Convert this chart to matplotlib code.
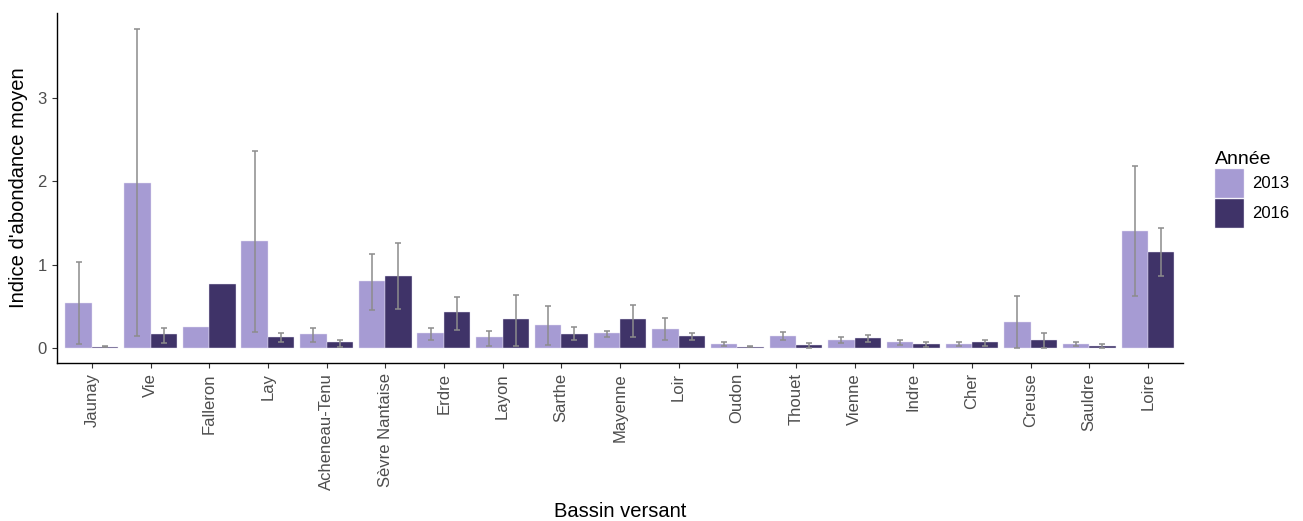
import matplotlib.pyplot as plt
import numpy as np

# ------------------------------------------------------------------ #
#                               DATA                                 #
# ------------------------------------------------------------------ #
bassins = ["Jaunay", "Vie", "Falleron", "Lay", "Acheneau-Tenu", "Sèvre Nantaise",
           "Erdre", "Layon", "Sarthe", "Mayenne", "Loir", "Oudon", "Thouet",
           "Vienne", "Indre", "Cher", "Creuse", "Sauldre", "Loire"]
annees = ["2013", "2016"]

moy_2013 = [0.54, 1.98, 0.25, 1.28, 0.17, 0.81, 0.18, 0.13, 0.28, 0.18,
            0.23, 0.05, 0.15, 0.10, 0.07, 0.05, 0.31, 0.05, 1.41]
bas_2013 = [0.05, 0.15, np.nan, 0.19, 0.08, 0.455, 0.10, 0.03, 0.04, 0.13,
            0.10, 0.03, 0.10, 0.06, 0.04, 0.03, 0.0, 0.03, 0.63]
haut_2013 = [1.03, 3.83, np.nan, 2.36, 0.24, 1.13, 0.24, 0.21, 0.51, 0.21,
             0.36, 0.08, 0.20, 0.13, 0.10, 0.08, 0.63, 0.07, 2.18]

moy_2016 = [0.02, 0.17, 0.77, 0.13, 0.07, 0.87, 0.43, 0.35, 0.17, 0.35,
            0.15, 0.02, 0.04, 0.12, 0.05, 0.07, 0.10, 0.03, 1.15]
bas_2016 = [0.01, 0.06, np.nan, 0.08, 0.01, 0.47, 0.22, 0.03, 0.10, 0.14,
            0.10, 0.01, 0.0, 0.08, 0.02, 0.03, 0.0, 0.0, 0.86]
haut_2016 = [0.03, 0.24, np.nan, 0.18, 0.10, 1.26, 0.62, 0.64, 0.25, 0.52,
             0.18, 0.03, 0.06, 0.16, 0.08, 0.10, 0.18, 0.05, 1.44]

couleurs = {"2013": "#A69BD3", "2016": "#3F3368"}

# ------------------------------------------------------------------ #
#                               PLOT                                 #
# ------------------------------------------------------------------ #
plt.rcParams['font.family'] = ['Liberation Sans', 'DejaVu Sans']

fig = plt.figure(figsize=(13.03, 5.21), dpi=100)
ax = fig.add_axes([0.0435, 0.3027, 0.9080 - 0.0435, 0.9756 - 0.3027])

x = np.arange(1, len(bassins) + 1)
w = 0.45
series = [(moy_2013, bas_2013, haut_2013, -w / 2, "2013"),
          (moy_2016, bas_2016, haut_2016, w / 2, "2016")]

for moy, bas, haut, dx, an in series:
    moy = np.array(moy)
    ax.bar(x + dx, moy, width=w, color=couleurs[an], edgecolor="#E6E2F3",
           linewidth=0.3, label=an, zorder=2)
    bas = np.array(bas)
    haut = np.array(haut)
    ok = ~np.isnan(bas)
    yerr = np.vstack([moy[ok] - bas[ok], haut[ok] - moy[ok]])
    ax.errorbar(x[ok] + dx, moy[ok], yerr=yerr, fmt="none", ecolor="#8C8C8C",
                elinewidth=1.1, capsize=2.2, capthick=1.1, zorder=3)

ax.set_xlim(0.4, len(bassins) + 0.6)
ax.set_ylim(-0.18, 4.02)
ax.set_yticks([0, 1, 2, 3])
ax.set_xticks(x)
ax.set_xticklabels(bassins, rotation=90, ha="center", va="top")

for s in ["top", "right"]:
    ax.spines[s].set_visible(False)
for s in ["left", "bottom"]:
    ax.spines[s].set_linewidth(1.0)
    ax.spines[s].set_color("black")

ax.tick_params(axis="both", length=3.5, width=0.8, color="#333333",
               labelcolor="#4D4D4D", labelsize=12)

ax.set_xlabel("Bassin versant", fontsize=14.5, labelpad=9)
ax.set_ylabel("Indice d'abondance moyen", fontsize=14.5, labelpad=7)

leg = ax.legend(title="Année", loc="upper left", bbox_to_anchor=(1.028, 0.606),
                frameon=False, fontsize=12, title_fontsize=14,
                handlelength=1.75, handleheight=2.3, handletextpad=0.5,
                labelspacing=0.05, borderpad=0, borderaxespad=0)
leg._legend_box.align = "left"

fig.savefig("out.png", dpi=100)
